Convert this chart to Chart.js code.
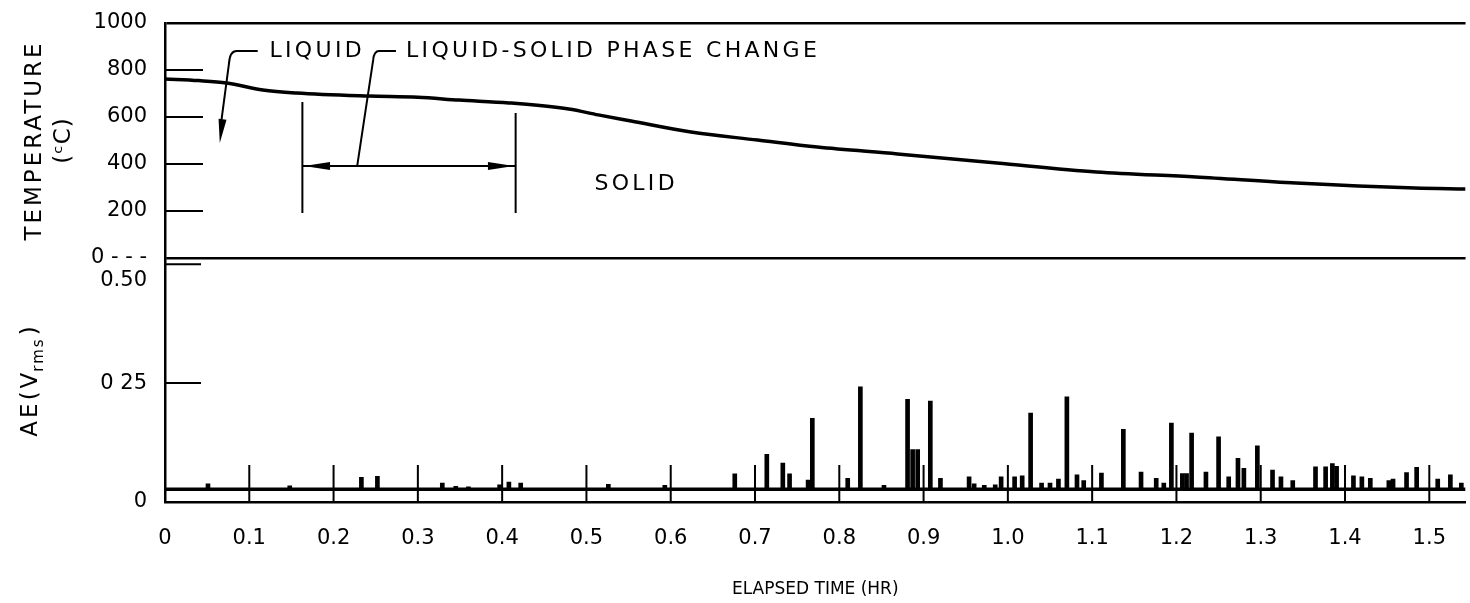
<!DOCTYPE html>
<html>
<head>
<meta charset="utf-8">
<title>Temperature and AE vs elapsed time</title>
<script src="https://cdn.jsdelivr.net/npm/chart.js@4.4.1/dist/chart.umd.min.js"></script>
<style>
  html, body { margin: 0; padding: 0; background: #fff; }
  #wrap { width: 1470px; height: 603px; }
</style>
</head>
<body>
<div id="wrap"><canvas id="myChart" width="1470" height="603"></canvas></div>
<script>
// temperature trace, hr vs deg C
const tempTime = [0, 0.04, 0.073, 0.116, 0.156, 0.242, 0.30, 0.349, 0.408, 0.479, 0.514, 0.553, 0.624, 0.703, 0.774, 0.869, 0.987, 1.105, 1.223, 1.342, 1.483, 1.543];
const tempC = [762, 755, 745, 715, 702, 689, 684, 672, 660, 634, 609, 583, 536, 502, 472, 443, 404, 366, 345, 319, 298, 294];

// AE rms: floor level and the spikes on top of it
const aeFloorTime = [0, 1.543];
const aeFloor = [0.027, 0.027];
const spikeTime = [0.051, 0.148, 0.233, 0.252, 0.329, 0.345, 0.36, 0.397, 0.408, 0.422, 0.526, 0.593, 0.676, 0.714, 0.733, 0.741, 0.763, 0.768, 0.81, 0.825, 0.853, 0.881, 0.887, 0.893, 0.908, 0.92, 0.954, 0.96, 0.972, 0.985, 0.992, 1.008, 1.017, 1.027, 1.04, 1.05, 1.06, 1.07, 1.082, 1.09, 1.111, 1.137, 1.158, 1.176, 1.185, 1.194, 1.207, 1.212, 1.218, 1.235, 1.25, 1.262, 1.273, 1.28, 1.296, 1.314, 1.324, 1.338, 1.365, 1.377, 1.385, 1.39, 1.41, 1.42, 1.43, 1.452, 1.457, 1.473, 1.485, 1.51, 1.525, 1.538];
const spikePeak = [0.038, 0.034, 0.052, 0.054, 0.040, 0.033, 0.032, 0.036, 0.042, 0.040, 0.037, 0.035, 0.059, 0.100, 0.082, 0.059, 0.046, 0.176, 0.050, 0.242, 0.035, 0.216, 0.110, 0.110, 0.212, 0.050, 0.053, 0.038, 0.035, 0.036, 0.053, 0.053, 0.055, 0.187, 0.040, 0.040, 0.048, 0.221, 0.057, 0.045, 0.061, 0.153, 0.063, 0.050, 0.040, 0.166, 0.060, 0.060, 0.145, 0.063, 0.137, 0.053, 0.092, 0.071, 0.118, 0.067, 0.053, 0.045, 0.074, 0.074, 0.081, 0.075, 0.055, 0.053, 0.050, 0.045, 0.048, 0.062, 0.073, 0.048, 0.057, 0.040];

// ticks
const timeTicks = [0, 0.1, 0.2, 0.3, 0.4, 0.5, 0.6, 0.7, 0.8, 0.9, 1.0, 1.1, 1.2, 1.3, 1.4, 1.5];
const timeTickLabels = ["0", "0.1", "0.2", "0.3", "0.4", "0.5", "0.6", "0.7", "0.8", "0.9", "1.0", "1.1", "1.2", "1.3", "1.4", "1.5"];
const tempTicks = [0, 200, 400, 600, 800, 1000];
const tempTickLabels = ["0 - - -", "200", "400", "600", "800", "1000"];
const aeTicks = [0, 0.25, 0.5];
const aeTickLabels = ["0", "0 25", ["", "0.50"]];

const FONT = "'DejaVu Sans', sans-serif";
Chart.defaults.font.family = FONT;
Chart.defaults.color = "#000";

// inward tick marks like the original plot
const innerTicks = {
  id: "innerTicks",
  afterDraw(chart) {
    const { ctx, chartArea, scales } = chart;
    ctx.save();
    ctx.strokeStyle = "#000";
    ctx.lineWidth = 2;
    ctx.beginPath();
    scales.yT.ticks.forEach((t) => {
      if (t.value > 0 && t.value < 1000) {
        const y = scales.yT.getPixelForValue(t.value);
        ctx.moveTo(chartArea.left, y);
        ctx.lineTo(chartArea.left + 38, y);
      }
    });
    scales.yA.ticks.forEach((t) => {
      if (t.value > 0) {
        const y = scales.yA.getPixelForValue(t.value);
        ctx.moveTo(chartArea.left, y);
        ctx.lineTo(chartArea.left + 36, y);
      }
    });
    scales.x.ticks.forEach((t) => {
      if (t.value > 0) {
        const x = scales.x.getPixelForValue(t.value);
        ctx.moveTo(x, chartArea.bottom);
        ctx.lineTo(x, chartArea.bottom - 37);
      }
    });
    ctx.stroke();
    ctx.restore();
  },
};

// rotated y titles, drawn by hand for the letter spacing and the subscript
const yTitles = {
  id: "yTitles",
  afterDraw(chart) {
    const { ctx, scales } = chart;
    const midT = (scales.yT.top + scales.yT.bottom) / 2;
    const midA = (scales.yA.top + scales.yA.bottom) / 2;
    ctx.save();
    ctx.fillStyle = "#000";
    ctx.textBaseline = "middle";

    ctx.save();
    ctx.translate(35, midT);
    ctx.rotate(-Math.PI / 2);
    ctx.font = "23px " + FONT;
    ctx.letterSpacing = "3px";
    ctx.textAlign = "center";
    ctx.fillText("TEMPERATURE", 0, 0);
    ctx.letterSpacing = "1px";
    ctx.fillText("(ᶜC)", 0, 29);
    ctx.restore();

    ctx.save();
    ctx.translate(31, midA);
    ctx.rotate(-Math.PI / 2);
    ctx.textAlign = "left";
    ctx.letterSpacing = "3px";
    ctx.font = "23px " + FONT;
    const w1 = ctx.measureText("AE(V").width;
    const w3 = ctx.measureText(")").width;
    ctx.font = "15px " + FONT;
    ctx.letterSpacing = "2px";
    const w2 = ctx.measureText("rms").width;
    let x0 = -(w1 + w2 + w3) / 2;
    ctx.font = "23px " + FONT;
    ctx.letterSpacing = "3px";
    ctx.fillText("AE(V", x0, 0);
    ctx.font = "15px " + FONT;
    ctx.letterSpacing = "2px";
    ctx.fillText("rms", x0 + w1 - 2, 8);
    ctx.font = "23px " + FONT;
    ctx.letterSpacing = "3px";
    ctx.fillText(")", x0 + w1 + w2, 0);
    ctx.restore();

    ctx.restore();
  },
};

function arrowHead(ctx, tipX, tipY, fromX, fromY, len, half) {
  const dx = tipX - fromX;
  const dy = tipY - fromY;
  const d = Math.sqrt(dx * dx + dy * dy);
  const ux = dx / d;
  const uy = dy / d;
  const bx = tipX - ux * len;
  const by = tipY - uy * len;
  ctx.beginPath();
  ctx.moveTo(tipX, tipY);
  ctx.lineTo(bx - uy * half, by + ux * half);
  ctx.lineTo(bx + uy * half, by - ux * half);
  ctx.closePath();
  ctx.fill();
}

// labels and leader lines in the temperature panel
const notes = {
  id: "notes",
  afterDatasetsDraw(chart) {
    const { ctx, scales } = chart;
    const px = (h) => scales.x.getPixelForValue(h);
    const py = (c) => scales.yT.getPixelForValue(c);
    ctx.save();
    ctx.strokeStyle = "#000";
    ctx.fillStyle = "#000";
    ctx.lineWidth = 2;

    // LIQUID leader
    ctx.beginPath();
    ctx.moveTo(px(0.110), py(881));
    ctx.lineTo(px(0.085), py(881));
    ctx.quadraticCurveTo(px(0.077), py(881), px(0.076), py(830));
    ctx.lineTo(px(0.066), py(560));
    ctx.stroke();
    arrowHead(ctx, px(0.065), py(489), px(0.076), py(830), 24, 4);

    // phase change leader
    ctx.beginPath();
    ctx.moveTo(px(0.274), py(881));
    ctx.lineTo(px(0.254), py(881));
    ctx.quadraticCurveTo(px(0.248), py(881), px(0.247), py(843));
    ctx.lineTo(px(0.228), py(391));
    ctx.stroke();

    // dimension line between the two markers
    ctx.beginPath();
    ctx.moveTo(px(0.163), py(664));
    ctx.lineTo(px(0.163), py(191));
    ctx.moveTo(px(0.416), py(617));
    ctx.lineTo(px(0.416), py(191));
    ctx.moveTo(px(0.163), py(391));
    ctx.lineTo(px(0.416), py(391));
    ctx.stroke();
    arrowHead(ctx, px(0.165), py(391), px(0.3), py(391), 26, 4);
    arrowHead(ctx, px(0.414), py(391), px(0.3), py(391), 26, 4);

    ctx.font = "22px " + FONT;
    ctx.letterSpacing = "3.3px";
    ctx.textBaseline = "middle";
    ctx.textAlign = "left";
    ctx.fillText("LIQUID", px(0.124), py(879));
    ctx.fillText("LIQUID-SOLID PHASE CHANGE", px(0.286), py(879));
    ctx.textAlign = "center";
    ctx.fillText("SOLID", px(0.559), py(315));
    ctx.restore();
  },
};

// stacked y axes: keep them 165px wide and stop their label padding from pushing the plot down
function fitY(s) {
  s.width = 165;
  s.paddingTop = 0;
  s.paddingBottom = 0;
}

const ctx = document.querySelector("#myChart");

const myChart = new Chart(ctx, {
  type: "line",
  data: {
    datasets: [
      {
        label: "Temperature",
        data: tempTime.map((t, i) => ({ x: t, y: tempC[i] })),
        yAxisID: "yT",
        borderColor: "#000",
        borderWidth: 3.5,
        pointRadius: 0,
        cubicInterpolationMode: "monotone",
      },
      {
        label: "AE floor",
        data: aeFloorTime.map((t, i) => ({ x: t, y: aeFloor[i] })),
        yAxisID: "yA",
        borderColor: "#000",
        borderWidth: 3.5,
        pointRadius: 0,
      },
      {
        type: "bar",
        label: "AE",
        data: spikeTime.map((t, i) => ({ x: t, y: [aeFloor[0], spikePeak[i]] })),
        yAxisID: "yA",
        backgroundColor: "#000",
        borderWidth: 0,
        barThickness: 4,
      },
    ],
  },
  options: {
    responsive: false,
    devicePixelRatio: 1,
    animation: false,
    layout: { padding: { top: 23, right: 0, bottom: 0, left: 0 } },
    plugins: {
      legend: { display: false },
      tooltip: { enabled: false },
    },
    scales: {
      x: {
        type: "linear",
        min: 0,
        max: 1.543,
        offset: false,
        afterBuildTicks: (s) => { s.ticks = timeTicks.map((v) => ({ value: v })); },
        afterFit: (s) => { s.height = 101; },
        ticks: {
          callback: (v, i) => timeTickLabels[i],
          font: { size: 21 },
          padding: 24,
          maxRotation: 0,
          autoSkip: false,
        },
        grid: { display: false, offset: false, drawTicks: false },
        border: { display: true, color: "#000", width: 2.5 },
        title: {
          display: true,
          text: "ELAPSED TIME (HR)",
          font: { size: 17 },
          padding: { top: 0, bottom: 3 },
        },
      },
      yA: {
        type: "linear",
        position: "left",
        stack: "panels",
        stackWeight: 244,
        min: 0,
        max: 0.513,
        afterBuildTicks: (s) => { s.ticks = aeTicks.map((v) => ({ value: v })); },
        afterFit: fitY,
        ticks: {
          callback: (v, i) => aeTickLabels[i],
          font: { size: 21, lineHeight: 1.55 },
          padding: 18,
        },
        grid: { display: false, drawTicks: false },
        border: { display: true, color: "#000", width: 2.5 },
        title: { display: false },
      },
      yT: {
        type: "linear",
        position: "left",
        stack: "panels",
        stackWeight: 235,
        min: 0,
        max: 1000,
        afterBuildTicks: (s) => { s.ticks = tempTicks.map((v) => ({ value: v })); },
        afterFit: fitY,
        ticks: {
          callback: (v, i) => tempTickLabels[i],
          font: { size: 21 },
          padding: 18,
        },
        grid: {
          drawTicks: false,
          lineWidth: 2.5,
          color: (c) => (c.tick && (c.tick.value === 0 || c.tick.value === 1000) ? "#000" : "rgba(0,0,0,0)"),
        },
        border: { display: true, color: "#000", width: 2.5 },
        title: { display: false },
      },
    },
  },
  plugins: [innerTicks, yTitles, notes],
});
</script>
</body>
</html>
